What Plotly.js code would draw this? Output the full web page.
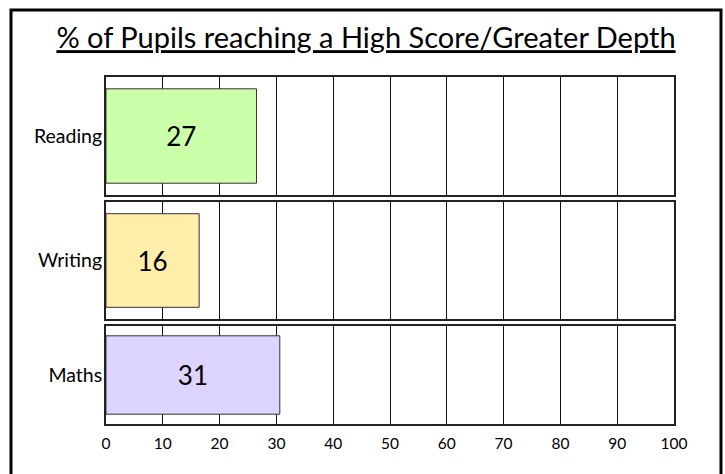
<!DOCTYPE html>
<html>
<head>
<meta charset="utf-8">
<script src="https://cdn.plot.ly/plotly-3.0.1.min.js"></script>
<style>
  html, body { margin: 0; padding: 0; background: #fff; }
  #chart { width: 725px; height: 474px; }
</style>
</head>
<body>
<div id="chart"></div>
<script>
// ---- data ----
const categories = ['Reading', 'Writing', 'Maths'];
const values = [26.5, 16.4, 30.6];
const valueLabels = ['27', '16', '31'];
const xTickValues = [0, 10, 20, 30, 40, 50, 60, 70, 80, 90, 100];
const titleText = '% of Pupils reaching a High Score/Greater Depth';

// ---- styling / layout ----
const W = 725, H = 474;
const barColors = ['#CCFFAA', '#FFEEAA', '#DDD4FF'];
const px = (v) => v / W;
const py = (v) => 1 - v / H;
// panel vertical extents in pixels (top, bottom)
const panels = [[77, 195], [202, 319], [326, 424]];
const xDomain = [px(106), px(674)];
const FONT = 'Lato, "Open Sans", sans-serif';

const traces = categories.map((c, i) => ({
  type: 'bar',
  orientation: 'h',
  x: [values[i]],
  y: [c],
  text: [valueLabels[i]],
  textposition: 'inside',
  insidetextanchor: 'middle',
  constraintext: 'none',
  textfont: { family: FONT, size: 26, color: '#000' },
  marker: { color: barColors[i], line: { color: '#333', width: 1 } },
  width: 0.8,
  xaxis: i === 0 ? 'x' : 'x' + (i + 1),
  yaxis: i === 0 ? 'y' : 'y' + (i + 1),
  hoverinfo: 'skip',
  cliponaxis: false
}));

const layout = {
  width: W, height: H,
  margin: { l: 0, r: 0, t: 0, b: 0 },
  paper_bgcolor: '#fff',
  plot_bgcolor: 'rgba(0,0,0,0)',
  showlegend: false,
  title: {
    text: titleText,
    x: 366 / W, xanchor: 'center',
    y: py(38), yanchor: 'middle',
    font: { family: FONT, size: 29, color: '#000', lineposition: 'under' }
  },
  shapes: [{
    type: 'rect', xref: 'paper', yref: 'paper',
    x0: px(11), x1: px(721), y0: py(10), y1: py(490),
    line: { color: '#000', width: 3 }, fillcolor: 'rgba(0,0,0,0)', layer: 'above'
  }]
};

categories.forEach((c, i) => {
  const sfx = i === 0 ? '' : String(i + 1);
  layout['xaxis' + sfx] = {
    domain: xDomain,
    range: [0, 100],
    tickvals: xTickValues,
    showticklabels: i === categories.length - 1,
    ticks: '',
    ticklabelstandoff: 4,
    showgrid: true, gridcolor: '#111', gridwidth: 1,
    zeroline: false,
    showline: true, mirror: true, linecolor: '#222', linewidth: 2,
    anchor: 'y' + sfx,
    tickfont: { family: FONT, size: 15.5, color: '#000' },
    fixedrange: true
  };
  layout['yaxis' + sfx] = {
    domain: [py(panels[i][1]), py(panels[i][0])],
    type: 'category',
    range: [-0.5, 0.5],
    showgrid: false, zeroline: false,
    showline: true, mirror: true, linecolor: '#222', linewidth: 2,
    ticks: '',
    ticklabelstandoff: -2,
    anchor: 'x' + sfx,
    tickfont: { family: FONT, size: 19.5, color: '#000' },
    fixedrange: true
  };
});

Plotly.newPlot('chart', traces, layout, { displayModeBar: false, staticPlot: true });
</script>
</body>
</html>
